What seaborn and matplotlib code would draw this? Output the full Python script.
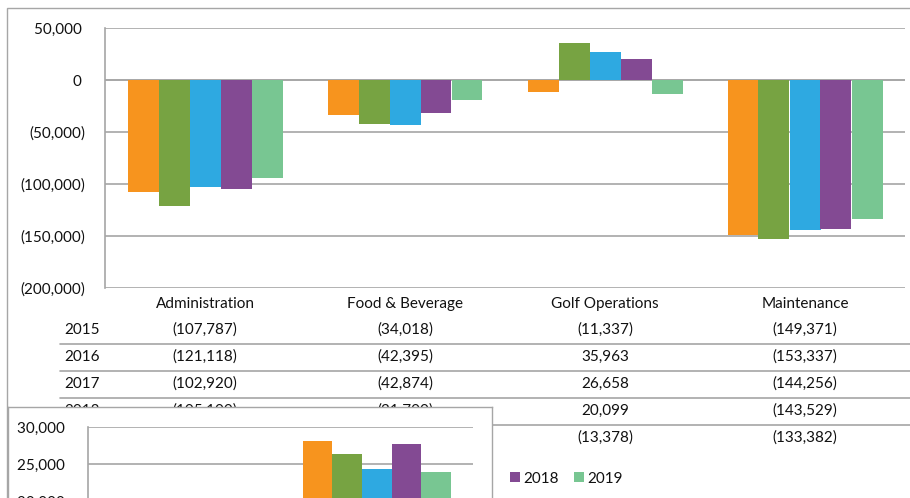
import numpy as np
import pandas as pd
import matplotlib
matplotlib.use("Agg")
import matplotlib.pyplot as plt
import matplotlib.transforms as mtransforms
from matplotlib.patches import Rectangle
from matplotlib.lines import Line2D
import seaborn as sns

# data
categories = ["Administration", "Food & Beverage", "Golf Operations", "Maintenance"]
years = ["2015", "2016", "2017", "2018", "2019"]
v2015 = [-107787, -34018, -11337, -149371]
v2016 = [-121118, -42395, 35963, -153337]
v2017 = [-102920, -42874, 26658, -144256]
v2018 = [-105100, -31700, 20099, -143529]   # first two hidden in the reference
v2019 = [-93900, -19200, -13378, -133382]   # first two hidden in the reference
colors = ["#F7941E", "#77A342", "#2EA9E1", "#834A93", "#78C692"]

# the overlapping chart in the lower left (only the top of one group shows)
inset_cat = ["inset"]
inset_vals = [28100, 26350, 24370, 27780, 24000]

yticks_main = [50000, 0, -50000, -100000, -150000, -200000]
yticks_inset = [30000, 25000, 20000]

sns.set_style("white")
plt.rcParams["font.family"] = ["Lato", "DejaVu Sans"]
plt.rcParams["font.size"] = 11
plt.rcParams["text.color"] = "#111111"
plt.rcParams["xtick.color"] = "#111111"
plt.rcParams["ytick.color"] = "#111111"

W, H = 910, 498
FS = 11
grid_c = "#A6A6A6"


def acct(v):
    if v < 0:
        return f"({-v:,})"
    if v == 0:
        return "0 "
    return f"{v:,} "


def fx(px):
    return px / W


def fy(px):
    return 1 - px / H


values = [v2015, v2016, v2017, v2018, v2019]
df = pd.DataFrame({
    "category": np.tile(categories, len(years)),
    "year": np.repeat(years, len(categories)),
    "value": np.concatenate(values),
})

fig = plt.figure(figsize=(W / 100, H / 100), dpi=100)

# outer chart border
fig.add_artist(Rectangle((fx(7), -0.2), 2, fy(8) + 0.2, transform=fig.transFigure,
                         fill=False, ec=grid_c, lw=1.0, zorder=0))

ax = fig.add_axes([fx(105), fy(288), fx(905) - fx(105), fy(28) - fy(288)])
sns.barplot(data=df, x="category", y="value", hue="year", palette=colors,
            width=0.775, saturation=1, linewidth=0, ax=ax, legend=True)
ax.set_ylim(-200000, 50000)
ax.set_yticks(yticks_main)
ax.set_yticklabels([acct(t) for t in yticks_main])
ax.yaxis.grid(True, color=grid_c, lw=1.2)
ax.set_axisbelow(True)
ax.axhline(0, color=grid_c, lw=1.2, zorder=0.5)
for s in ["top", "right", "bottom"]:
    ax.spines[s].set_visible(False)
ax.spines["left"].set_color(grid_c)
ax.spines["left"].set_linewidth(1.2)
ax.tick_params(axis="y", length=6, width=1.2, color=grid_c, pad=8, labelsize=FS)
ax.tick_params(axis="x", length=0, pad=6.5, labelsize=FS)
ax.set_xlabel("")
ax.set_ylabel("")

# legend (mostly hidden under the inset)
handles, labels = ax.get_legend_handles_labels()
ax.legend(handles, labels, ncol=5, loc="center right",
          bbox_to_anchor=(fx(623), fy(478.5)), bbox_transform=fig.transFigure,
          frameon=False, fontsize=FS, handlelength=0.65, handleheight=0.65,
          handletextpad=0.22, columnspacing=1.02, borderpad=0, borderaxespad=0)

# data table under the chart
trans = mtransforms.blended_transform_factory(ax.transData, fig.transFigure)
row_y = [330, 357, 384, 411, 438]
for i, yr in enumerate(years):
    ax.text(fx(64), fy(row_y[i]), yr, transform=fig.transFigure, ha="left",
            va="center", fontsize=FS, clip_on=False)
    for j, cat in enumerate(categories):
        ax.text(j, fy(row_y[i]), acct(values[i][j]).strip(), transform=trans,
                ha="center", va="center", fontsize=FS, clip_on=False)
for yl in [343.5, 370.5, 397.5, 424.5]:
    ax.add_artist(Line2D([fx(60), 1.05], [fy(yl), fy(yl)], transform=fig.transFigure,
                         color=grid_c, lw=1.2, clip_on=False))

# overlapping chart
box = fig.add_axes([fx(8), -0.3, fx(492) - fx(8), fy(407) + 0.3], zorder=3)
box.set_facecolor("white")
box.set_xticks([])
box.set_yticks([])
for s in box.spines.values():
    s.set_color(grid_c)
    s.set_linewidth(1.0)

ax2 = fig.add_axes([fx(88), fy(427.3 + 30 * 7.4), fx(473.3) - fx(88), 30 * 7.4 / H], zorder=4)
ax2.set_facecolor("none")
df2 = pd.DataFrame({"category": inset_cat * len(years), "year": years, "value": inset_vals})
sns.barplot(data=df2, x="category", y="value", hue="year", palette=colors,
            width=0.77, saturation=1, linewidth=0, ax=ax2, legend=False)
ax2.set_xlim(-1.5, 0.5)
ax2.set_ylim(0, 30000)
ax2.set_yticks(yticks_inset)
ax2.set_yticklabels([acct(t) for t in yticks_inset])
ax2.yaxis.grid(True, color=grid_c, lw=1.2)
ax2.set_axisbelow(True)
for s in ["top", "right", "bottom"]:
    ax2.spines[s].set_visible(False)
ax2.spines["left"].set_color(grid_c)
ax2.spines["left"].set_linewidth(1.2)
ax2.tick_params(axis="y", length=6, width=1.2, color=grid_c, pad=8, labelsize=FS)
ax2.set_xticks([])
ax2.set_xlabel("")
ax2.set_ylabel("")

fig.savefig("out.png", dpi=100)
